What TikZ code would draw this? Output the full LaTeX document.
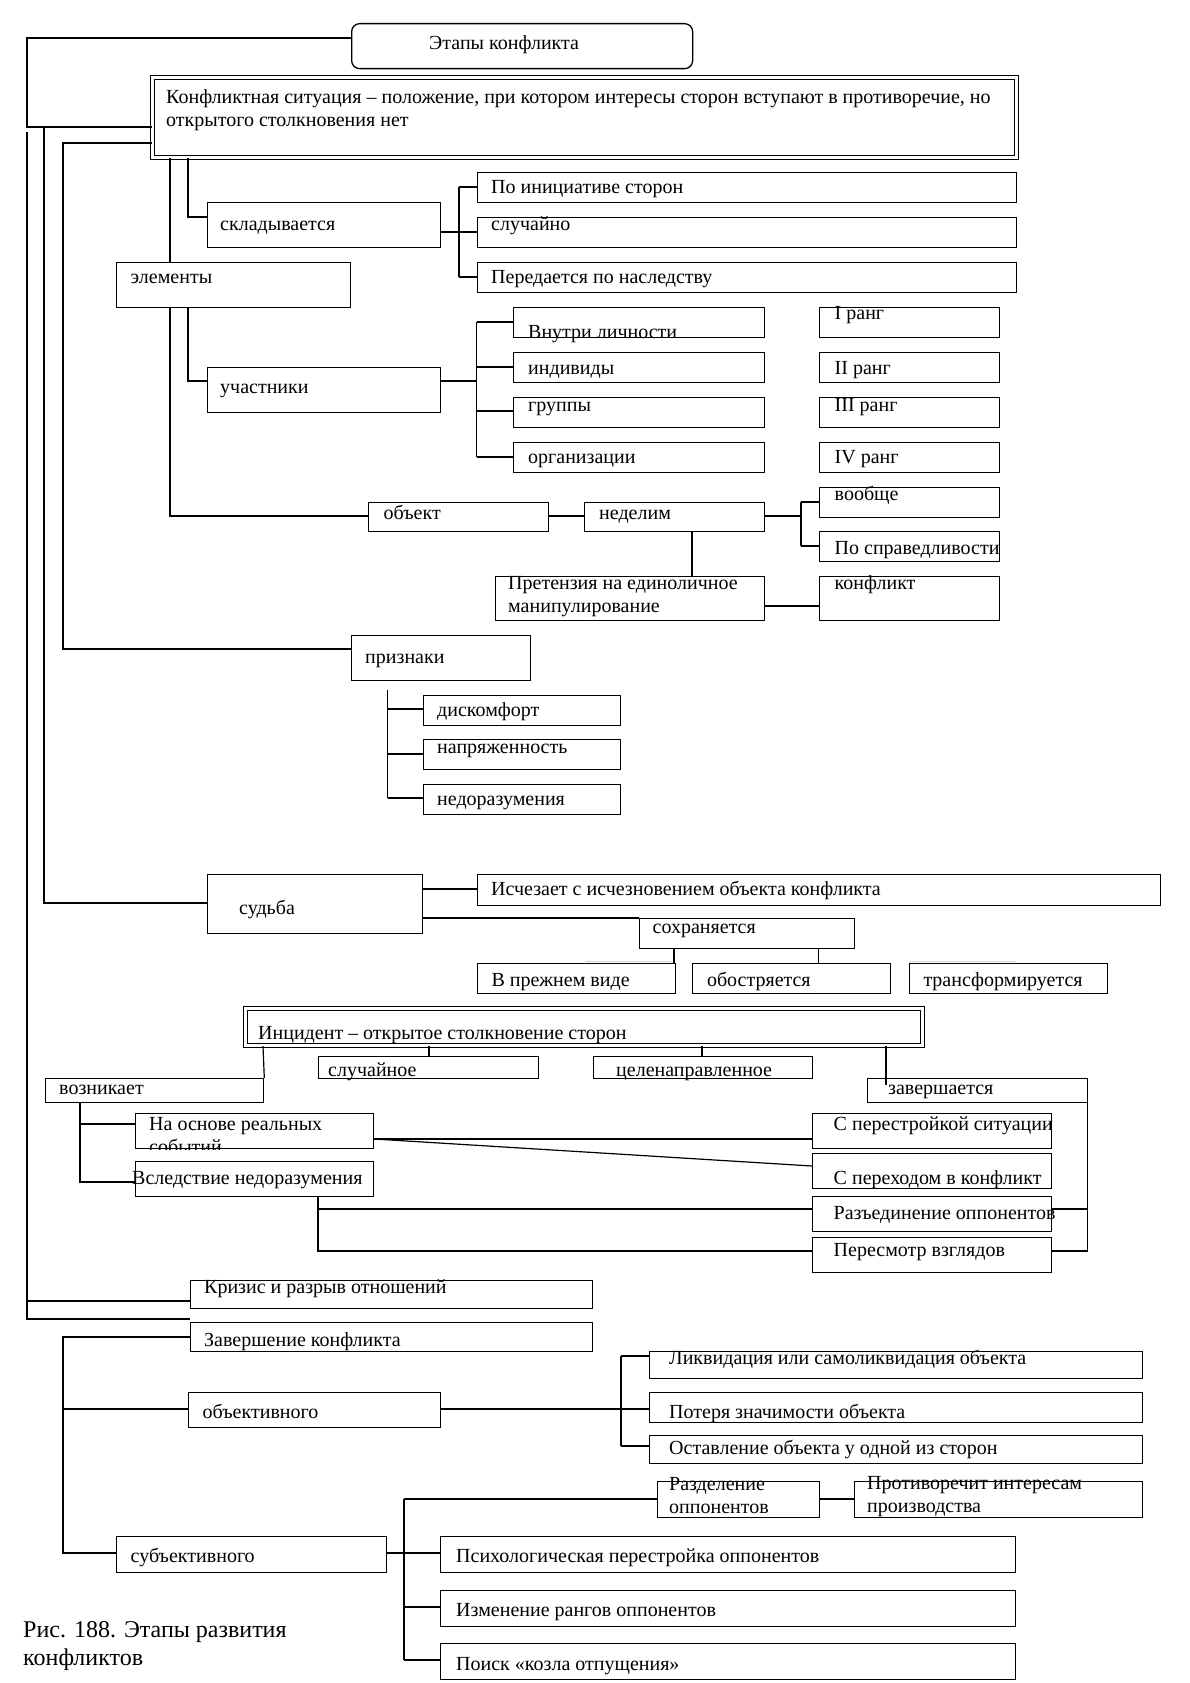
\documentclass[tikz,border=0pt]{standalone}
\usepackage{fontspec}
\setmainfont{Liberation Serif}
\begin{document}
\begin{tikzpicture}[x=1pt,y=-1pt,
  box/.style={draw, line width=1.3pt, anchor=north west, inner sep=0pt},
  dbox/.style={box, double, double distance=2.4pt, line width=1.1pt},
  txt/.style={anchor=mid west, inner sep=0pt, yshift=-4pt, font=\fontsize{20}{23}\selectfont},
  txt2/.style={anchor=west, align=left, inner sep=0pt, font=\fontsize{20}{23}\selectfont},
  ln/.style={line width=1.2pt}]
\useasboundingbox (0,0) rectangle (1190,1683);

% title and situation
\node[box, rounded corners=8pt, minimum width=341pt, minimum height=45pt] (title) at (351,23) {};
\node[txt] (title-t) at (429,43) {Этапы конфликта};
\node[dbox, minimum width=864pt, minimum height=80pt] (sit) at (152,77) {};
\node[txt2] (sit-t) at (166,110.5) {Конфликтная ситуация – положение, при котором интересы сторон вступают в противоречие, но\\открытого столкновения нет};

% skladyvaetsya
\node[box, minimum width=233pt, minimum height=45pt] (skl) at (207,202) {};
\node[txt] (skl-t) at (220,224) {складывается};
\foreach \n/\y/\ty/\lab in {ini/172/187/По инициативе сторон, slu/217/224/случайно, nas/262/277/Передается по наследству} {
  \node[box, minimum width=539pt, minimum height=30pt] (\n) at (476.5,\y) {};
  \node[txt] (\n-t) at (491,\ty) {\lab};
}

% elementy
\node[box, minimum width=234pt, minimum height=45pt] (elem) at (116,262) {};
\node[txt] (elem-t) at (130.5,277) {элементы};
\node[box, minimum width=233pt, minimum height=45pt] (uch) at (207,367) {};
\node[txt] (uch-t) at (220,387) {участники};
\foreach \n/\y/\ty/\lab/\rk/\ry in {vn/307/332/Внутри личности/I/313, ind/352/368/индивиды/II/368, gr/397/405/группы/III/405, org/442/457/организации/IV/457} {
  \node[box, minimum width=251pt, minimum height=30pt] (\n) at (513,\y) {};
  \node[txt] (\n-t) at (528,\ty) {\lab};
  \node[box, minimum width=180pt, minimum height=30pt] (\n-r) at (819,\y) {};
  \node[txt] (\n-rt) at (834.5,\ry) {\rk\ ранг};
}

% obekt
\node[box, minimum width=180pt, minimum height=29pt] (obj) at (368,502) {};
\node[txt] (obj-t) at (383.5,513) {объект};
\node[box, minimum width=180pt, minimum height=29pt] (ned) at (584,502) {};
\node[txt] (ned-t) at (599,513) {неделим};
\node[box, minimum width=180pt, minimum height=30pt] (voob) at (819,487) {};
\node[txt] (voob-t) at (834.5,494) {вообще};
\node[box, minimum width=180pt, minimum height=30pt] (spr) at (819,531) {};
\node[txt] (spr-t) at (834.5,548) {По справедливости};
\node[box, minimum width=269pt, minimum height=44pt] (pret) at (495,576) {};
\node[txt2] (pret-t) at (508,597) {Претензия на единоличное\\манипулирование};
\node[box, minimum width=180pt, minimum height=44pt] (konf) at (819,576) {};
\node[txt] (konf-t) at (834.5,583) {конфликт};

% priznaki
\node[box, minimum width=179pt, minimum height=45pt] (priz) at (351,635) {};
\node[txt] (priz-t) at (365,657) {признаки};
\foreach \n/\y/\ty/\lab in {disk/695/710/дискомфорт, napr/739/747/напряженность, nedr/784/799/недоразумения} {
  \node[box, minimum width=197pt, minimum height=30pt] (\n) at (423,\y) {};
  \node[txt] (\n-t) at (437,\ty) {\lab};
}

% sudba
\node[box, minimum width=215pt, minimum height=59pt] (sud) at (207,874) {};
\node[txt] (sud-t) at (239,908) {судьба};
\node[box, minimum width=683pt, minimum height=31pt] (isch) at (476.5,874) {};
\node[txt] (isch-t) at (491,889) {Исчезает с исчезновением объекта конфликта};
\node[box, minimum width=215pt, minimum height=30pt] (sohr) at (639,918) {};
\node[txt] (sohr-t) at (652.5,927) {сохраняется};
\foreach \n/\x/\lab in {prez/476.5/В прежнем виде, obos/692/обостряется, trans/908.5/трансформируется} {
  \node[box, minimum width=198pt, minimum height=30pt] (\n) at (\x,963) {};
  \node[txt] (\n-t) at (\x+14.8,980) {\lab};
}

% incident
\node[dbox, minimum width=677pt, minimum height=37pt] (inc) at (245,1008) {};
\node[txt] (inc-t) at (258,1033) {Инцидент – открытое столкновение сторон};
\node[box, minimum width=220pt, minimum height=22pt] (slc) at (318,1056) {};
\node[txt] (slc-t) at (328,1070) {случайное};
\node[box, minimum width=219pt, minimum height=22pt] (cel) at (593,1056) {};
\node[txt] (cel-t) at (616,1070) {целенаправленное};
\node[box, minimum width=218.5pt, minimum height=24pt] (vozn) at (44.5,1078) {};
\node[txt] (vozn-t) at (59,1088) {возникает};
\node[box, minimum width=219.5pt, minimum height=24pt] (zavr) at (867,1078) {};
\node[txt] (zavr-t) at (888,1088) {завершается};
\node[box, minimum width=238pt, minimum height=35pt] (osn) at (135,1113) {};
\begin{scope}
\clip (osn.north west) rectangle (osn.south east);
\node[txt2] (osn-t) at (149,1135.5) {На основе реальных\\событий};
\end{scope}
\node[box, minimum width=238pt, minimum height=35pt] (vsl) at (135,1161) {};
\node[txt] (vsl-t) at (132,1178) {Вследствие недоразумения};
\foreach \n/\y/\ty/\lab in {per/1113/1124/С перестройкой ситуации, perh/1153/1178/С переходом в конфликт, razd/1196/1213/Разъединение оппонентов, pers/1237/1250/Пересмотр взглядов} {
  \node[box, minimum width=239pt, minimum height=35pt] (\n) at (812,\y) {};
  \node[txt] (\n-t) at (833.5,\ty) {\lab};
}

% krizis, zavershenie
\node[box, minimum width=402pt, minimum height=28pt] (kriz) at (190,1280) {};
\node[txt] (kriz-t) at (204,1287) {Кризис и разрыв отношений};
\node[box, minimum width=402pt, minimum height=29pt] (zav) at (190,1322) {};
\node[txt] (zav-t) at (204,1340) {Завершение конфликта};
\node[box, minimum width=252pt, minimum height=35pt] (obv) at (188,1392) {};
\node[txt] (obv-t) at (202.5,1412) {объективного};
\foreach \n/\y/\h/\ty/\lab in {likv/1351/27/1358/Ликвидация или самоликвидация объекта, pot/1392/30/1412/Потеря значимости объекта, ost/1435/28/1448/Оставление объекта у одной из сторон} {
  \node[box, minimum width=493.5pt, minimum height=\h pt] (\n) at (648.5,\y) {};
  \node[txt] (\n-t) at (669,\ty) {\lab};
}
\node[box, minimum width=270pt, minimum height=36pt] (sub) at (116,1536) {};
\node[txt] (sub-t) at (130.5,1556) {субъективного};
\node[box, minimum width=162pt, minimum height=36pt] (rzd) at (656.5,1481) {};
\node[txt2] (rzd-t) at (669,1496) {Разделение\\оппонентов};
\node[box, minimum width=288pt, minimum height=36pt] (prot) at (854,1481) {};
\node[txt2] (prot-t) at (867,1497) {Противоречит интересам\\производства};
\foreach \n/\y/\ty/\lab in {psy/1536/1556/Психологическая перестройка оппонентов, izm/1590/1610/Изменение рангов оппонентов, poi/1643/1664/Поиск «козла отпущения»} {
  \node[box, minimum width=575pt, minimum height=36pt] (\n) at (440,\y) {};
  \node[txt] (\n-t) at (456,\ty) {\lab};
}
\node[anchor=west, inner sep=0pt, align=left, font=\fontsize{24}{28}\selectfont] (cap) at (23,1646) {Рис. 188. Этапы развития\\конфликтов};

% connectors, left side
\draw[ln] (title.west |- 0,38) -| (27,127) -- (sit.west |- 0,127);
\draw[ln] (27,132) -- (27,1319) -- (zav.west |- 0,1319);
\draw[ln] (27,1301) -- (kriz.west |- 0,1301);
\draw[ln] (44,127) |- (sud.west |- 0,903);
\draw[ln] (sit.west |- 0,143) -| (63,649) -- (priz.west |- 0,649);
\draw[ln] (170,0 |- sit.south) -- (170,0 |- elem.north);
\draw[ln] (188,0 |- sit.south) |- (skl.west |- 0,217);

% skladyvaetsya
\draw[ln] (skl.east |- 0,232) -- (459,232);
\draw[ln] (459,187) -- (459,277);
\foreach \n/\y in {ini/187, slu/232, nas/277} \draw[ln] (459,\y) -- (\n.west |- 0,\y);

% elementy
\draw[ln] (170,0 |- elem.south) |- (obj.west |- 0,516);
\draw[ln] (188,0 |- elem.south) |- (uch.west |- 0,381);
\draw[ln] (uch.east |- 0,381) -- (476.5,381);
\draw[ln] (476.5,322) -- (476.5,457);
\foreach \n/\y in {vn/322, ind/367, gr/411, org/457} \draw[ln] (476.5,\y) -- (\n.west |- 0,\y);
\draw[ln] (obj.east |- 0,516) -- (ned.west |- 0,516);
\draw[ln] (ned.east |- 0,516) -- (801,516);
\draw[ln] (801,502) -- (801,546);
\draw[ln] (801,502) -- (voob.west |- 0,502);
\draw[ln] (801,546) -- (spr.west |- 0,546);
\draw[ln] (692,0 |- ned.south) -- (692,0 |- pret.north);
\draw[ln] (pret.east |- 0,606) -- (konf.west |- 0,606);

% priznaki
\draw[ln] (387.5,690) -- (387.5,798);
\foreach \n/\y in {disk/709, napr/754, nedr/798} \draw[ln] (387.5,\y) -- (\n.west |- 0,\y);

% sudba
\draw[ln] (sud.east |- 0,889) -- (isch.west |- 0,889);
\draw[ln] (sud.east |- 0,918) -- (sohr.north west);
\draw[ln] (674,0 |- sohr.south) -- (674,0 |- prez.north);
\draw[ln] (818.5,0 |- sohr.south) -- (818.5,0 |- obos.north);
\draw[gray!35, line width=1pt] (585,961) -- (672,961);
\draw[gray!35, line width=1pt] (909,961) -- (1016,961);

% incident
\draw[ln] (263,0 |- inc.south) -- (vozn.north east);
\draw[ln] (429,0 |- inc.south) -- (429,0 |- slc.north);
\draw[ln] (702,0 |- inc.south) -- (702,0 |- cel.north);
\draw[ln] (886,0 |- inc.south) -- (886,1085);
\draw[ln] (80,0 |- vozn.south) |- (vsl.west |- 0,1182);
\draw[ln] (80,1124) -- (osn.west |- 0,1124);
\draw[ln] (osn.east |- 0,1139) -- (per.west |- 0,1139);
\draw[ln] (osn.east |- 0,1139) -- (perh.west |- 0,1166);
\draw[ln] (318,0 |- vsl.south) |- (pers.west |- 0,1251);
\draw[ln] (318,1209) -- (razd.west |- 0,1209);
\draw[ln] (zavr.south east) |- (pers.east |- 0,1251);
\draw[ln] (zavr.east |- 0,1209) -- (razd.east |- 0,1209);

% zavershenie
\draw[ln] (zav.west |- 0,1337) -| (63,1553) -- (sub.west |- 0,1553);
\draw[ln] (63,1409) -- (obv.west |- 0,1409);
\draw[ln] (obv.east |- 0,1409) -- (pot.west |- 0,1409);
\draw[ln] (621,1356) -- (621,1446);
\draw[ln] (621,1356) -- (likv.west |- 0,1356);
\draw[ln] (621,1446) -- (ost.west |- 0,1446);
\draw[ln] (sub.east |- 0,1553) -- (psy.west |- 0,1553);
\draw[ln] (404,1499) -- (404,1660);
\foreach \n/\y in {rzd/1499, izm/1607, poi/1660} \draw[ln] (404,\y) -- (\n.west |- 0,\y);
\draw[ln] (rzd.east |- 0,1499) -- (prot.west |- 0,1499);
\end{tikzpicture}
\end{document}
